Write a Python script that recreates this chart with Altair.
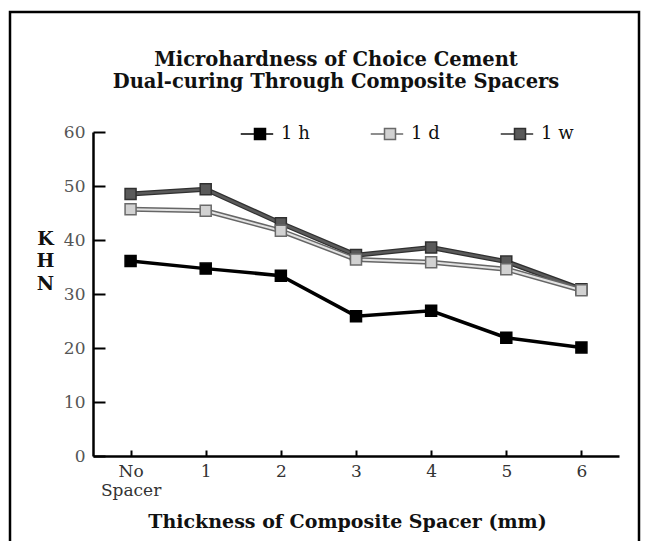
import altair as alt
import pandas as pd

# ---- data ----
thickness = ["No Spacer", "1", "2", "3", "4", "5", "6"]
series_names = ["1 h", "1 d", "1 w"]
khn_1h = [36.1, 34.7, 33.4, 25.9, 26.9, 21.9, 20.1]
khn_1d = [45.7, 45.4, 41.7, 36.4, 35.9, 34.6, 30.7]
khn_1w = [48.5, 49.4, 43.1, 37.2, 38.6, 36.0, 30.9]
y_ticks = [0, 10, 20, 30, 40, 50, 60]

fill_colors = ["#000000", "#d2d2d2", "#5a5a5a"]
stroke_colors = ["#000000", "#6a6a6a", "#303030"]

values = {"1 h": khn_1h, "1 d": khn_1d, "1 w": khn_1w}
draw_order = ["1 h", "1 w", "1 d"]
rows = []
for s in draw_order:
    for t, v in zip(thickness, values[s]):
        rows.append({"thickness": t, "khn": v, "series": s})
df = pd.DataFrame(rows)

SERIF = "DejaVu Serif"

x_enc = alt.X(
    "thickness:O",
    sort=thickness,
    scale=alt.Scale(type="point", padding=0.5),
    axis=alt.Axis(
        title="Thickness of Composite Spacer (mm)",
        labelExpr="split(datum.label, ' ')",
        labelAngle=0,
        labelFont=SERIF,
        labelFontSize=17,
        labelColor="#333333",
        labelLineHeight=19,
        labelPadding=13,
        labelBaseline="top",
        tickSize=alt.ExprRef(expr="-6"),
        tickColor="#000000",
        tickWidth=2,
        domainColor="#000000",
        domainWidth=2.5,
        grid=False,
        titleFont=SERIF,
        titleFontSize=19,
        titleFontWeight="bold",
        titleColor="#111111",
        titleX=254,
        titleY=65,
        titleAlign="center",
        titleBaseline="middle",
    ),
)

y_enc = alt.Y(
    "khn:Q",
    scale=alt.Scale(domain=[0, 60], nice=False),
    axis=alt.Axis(
        values=y_ticks,
        title=["K", "H", "N"],
        titleAngle=0,
        titleX=-48,
        titleY=106,
        titleAlign="center",
        titleBaseline="middle",
        titleLineHeight=22.5,
        titleFont=SERIF,
        titleFontSize=19,
        titleFontWeight="bold",
        titleColor="#111111",
        labelFont=SERIF,
        labelFontSize=17,
        labelColor="#555555",
        labelPadding=20,
        tickSize=alt.ExprRef(expr="-12"),
        tickColor="#000000",
        tickWidth=2,
        domainColor="#000000",
        domainWidth=2.5,
        grid=False,
    ),
)

base = alt.Chart(df)

frame = alt.Chart(alt.Data(values=[{"k": 1}])).mark_rect(
    filled=False, stroke="#000000", strokeWidth=2.5
).encode(
    x=alt.value(-83), x2=alt.value(546), y=alt.value(-120), y2=alt.value(440)
)

line_styles = {
    "1 h": [("#000000", 3.5)],
    "1 w": [("#303030", 5), ("#5a5a5a", 2.5)],
    "1 d": [("#666666", 5), ("#e2e2e2", 2)],
}

layers = [frame]
for s in draw_order:
    for col, w in line_styles[s]:
        layers.append(
            base.transform_filter(alt.datum.series == s)
            .mark_line(color=col, strokeWidth=w)
            .encode(x=x_enc, y=y_enc)
        )

legend = alt.Legend(
    title=None,
    orient="none",
    direction="horizontal",
    legendX=158,
    legendY=-7,
    symbolType="M-3.5,0H-1M1,0H2.4M-1,-1H1V1H-1Z",
    symbolSize=121,
    symbolStrokeWidth=1.5,
    labelFont=SERIF,
    labelFontSize=18,
    labelColor="#111111",
    labelOffset=12,
    gridAlign="all",
    columnPadding=53,
)

points = base.mark_point(shape="square", filled=True, size=121, strokeWidth=1.5, opacity=1).encode(
    x=x_enc,
    y=y_enc,
    fill=alt.Fill("series:N", scale=alt.Scale(domain=series_names, range=fill_colors), legend=legend),
    stroke=alt.Stroke("series:N", scale=alt.Scale(domain=series_names, range=stroke_colors), legend=legend),
)
layers.append(points)

chart = (
    alt.layer(*layers)
    .properties(
        width=526,
        height=324,
        padding={"left": 85, "top": 124, "right": 22, "bottom": 85},
        autosize=alt.AutoSizeParams(type="none"),
        title=alt.TitleParams(
            text=["Microhardness of Choice Cement", "Dual-curing Through Composite Spacers"],
            font=SERIF,
            fontSize=19.5,
            fontWeight="bold",
            color="#111111",
            lineHeight=22,
            anchor="middle",
            frame="group",
            baseline="bottom",
            dx=-20,
            dy=101,
            offset=0,
        ),
    )
    .configure_view(stroke=None)
)

chart.save("out.html", embed_options={"renderer": "svg", "actions": False})
